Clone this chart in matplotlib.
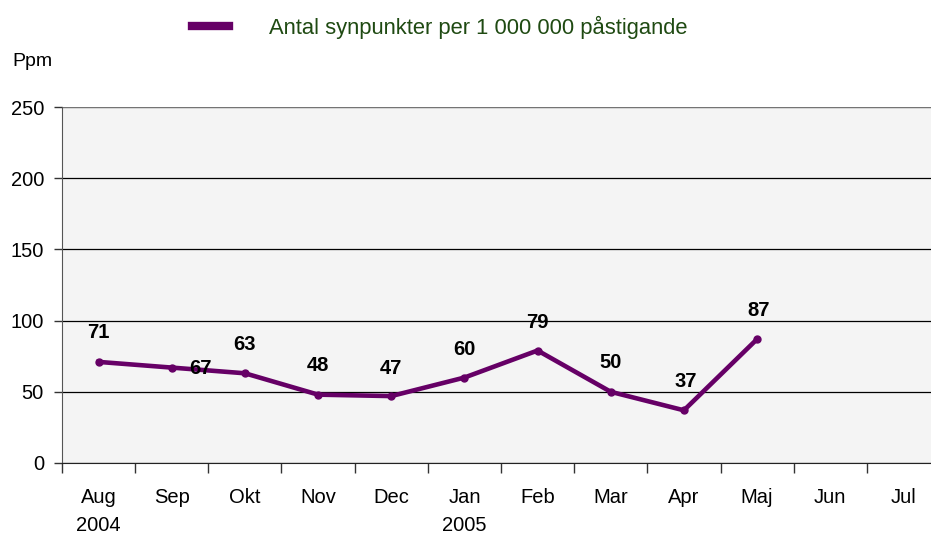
import numpy as np
import matplotlib.pyplot as plt
from matplotlib.ticker import FixedLocator, NullFormatter

months = ['Aug\n2004', 'Sep', 'Okt', 'Nov', 'Dec', 'Jan\n2005', 'Feb', 'Mar', 'Apr', 'Maj', 'Jun', 'Jul']
values = [71, 67, 63, 48, 47, 60, 79, 50, 37, 87]
# label offsets in pixels (dx, dy) relative to each point
label_offsets = [(0, 29), (29, -1), (0, 29), (0, 29), (0, 28), (0, 28), (0, 28), (0, 29), (2, 29), (2, 29)]

plt.rcParams['font.family'] = ['Liberation Sans', 'DejaVu Sans']

fig = plt.figure(figsize=(9.31, 5.37), dpi=100)
ax = fig.add_axes([62 / 931, 74 / 537, 878 / 931, 356 / 537])
ax.set_facecolor('#F4F4F4')

x = np.arange(len(values))
line_color = '#660066'
line, = ax.plot(x, values, color=line_color, lw=3.3, marker='o', ms=5, zorder=3,
                label='Antal synpunkter per 1 000 000 påstigande')

for xi, v, (dx, dy) in zip(x, values, label_offsets):
    ax.annotate(str(v), (xi, v), xytext=(dx, dy), textcoords='offset pixels',
                ha='center', va='center', fontsize=14.5, fontweight='bold', zorder=4)

ax.set_xlim(-0.5, len(months) - 0.5)
ax.set_ylim(0, 250)
ax.set_yticks([0, 50, 100, 150, 200, 250])
ax.yaxis.grid(True, color='black', lw=0.9)
ax.set_axisbelow(True)
ax.axhline(250, color='#8C8C8C', lw=1.2, zorder=2)

ax.set_xticks(np.arange(len(months)))
ax.set_xticklabels(months, fontsize=14.5, linespacing=1.58, va='top')
ax.tick_params(axis='x', which='major', length=0, pad=18)
ax.xaxis.set_minor_locator(FixedLocator(np.arange(-0.5, len(months), 1.0)))
ax.xaxis.set_minor_formatter(NullFormatter())
ax.tick_params(axis='x', which='minor', length=7, width=1, color='#333333')
ax.tick_params(axis='y', length=6, width=1, labelsize=14.5, pad=7, color='#333333')

for s in ['top', 'right']:
    ax.spines[s].set_visible(False)
ax.spines['left'].set_color('#555555')
ax.spines['bottom'].set_color('#222222')

fig.text(12 / 931, 1 - 61 / 537, 'Ppm', fontsize=14, va='center', ha='left')

leg = fig.legend(handles=[line], loc='center left', bbox_to_anchor=(172 / 931, 1 - 27 / 537),
                 frameon=False, fontsize=15.8, handlelength=1.7, handletextpad=1.8)
for t in leg.get_texts():
    t.set_color('#1F4A12')
for h in leg.legend_handles:
    h.set_marker('')
    h.set_linewidth(6)

fig.savefig('out.png', dpi=100, facecolor='white')
